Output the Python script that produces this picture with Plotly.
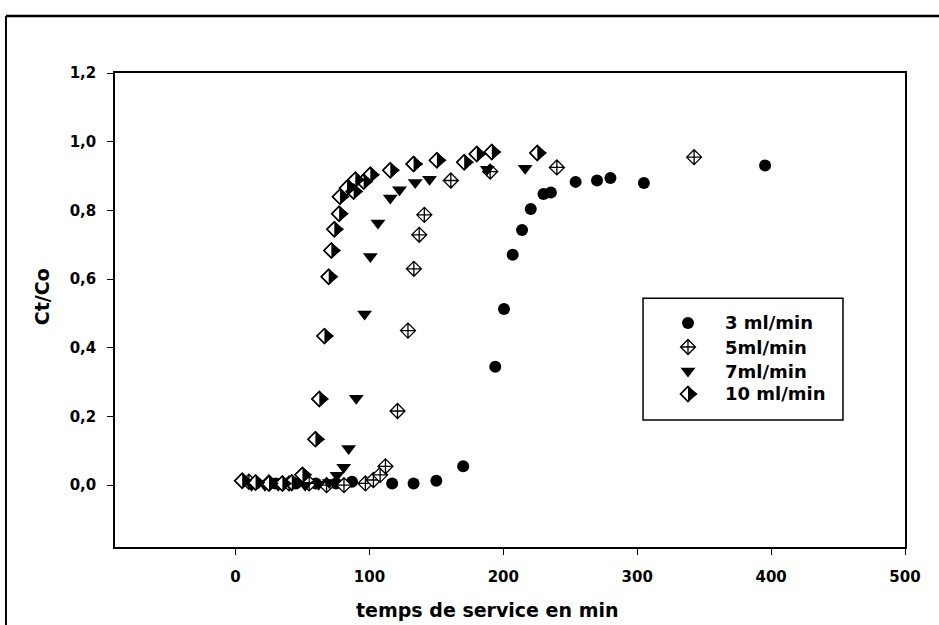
import plotly.graph_objects as go

# ---------------- data ----------------
x_3 = [15, 30, 45, 60, 75, 87, 117, 133, 150, 170, 194, 200.5, 207, 214, 220.5, 230, 235.5, 254, 270, 280, 305, 395.5]
y_3 = [0.005, 0.005, 0.005, 0.005, 0.005, 0.01, 0.005, 0.005, 0.013, 0.055, 0.345, 0.513, 0.671, 0.743, 0.804, 0.848, 0.852, 0.883, 0.887, 0.894, 0.880, 0.931]

x_5 = [10, 25, 40, 55, 68, 81, 97, 103, 108, 112, 121, 128.8, 133.2, 137.2, 141, 160.8, 190.2, 240, 342.5]
y_5 = [0.01, 0.008, 0.005, 0.005, 0.0, 0.0, 0.005, 0.015, 0.03, 0.055, 0.216, 0.45, 0.63, 0.729, 0.787, 0.887, 0.913, 0.925, 0.955]

x_7 = [12, 22, 32, 42, 52, 62, 70, 75.8, 80.8, 84.5, 90.2, 96.4, 100.7, 106.4, 115.6, 122.5, 134.2, 144.9, 188, 216.3]
y_7 = [0.0, 0.0, 0.0, 0.0, 0.0, 0.003, 0.008, 0.029, 0.052, 0.107, 0.253, 0.498, 0.666, 0.763, 0.836, 0.86, 0.881, 0.891, 0.92, 0.923]

x_10 = [5, 15, 25, 35, 42, 50, 59.7, 62.6, 66.4, 69.6, 71.6, 73.8, 77.4, 78, 83.3, 88.2, 89.5, 95.7, 100.7, 115.6, 133, 150.4, 170.8, 180.2, 191.4, 225.4]
y_10 = [0.013, 0.008, 0.005, 0.005, 0.008, 0.03, 0.134, 0.251, 0.434, 0.607, 0.683, 0.745, 0.79, 0.84, 0.865, 0.855, 0.889, 0.884, 0.904, 0.917, 0.935, 0.946, 0.940, 0.964, 0.970, 0.967]

series_names = ["3 ml/min", "5ml/min", "7ml/min", "10 ml/min"]
x_ticks = [0, 100, 200, 300, 400, 500]
y_ticks = [0.0, 0.2, 0.4, 0.6, 0.8, 1.0, 1.2]

# legend layout (fractions of the plot area)
leg_box = [0.6684, 0.268, 0.9215, 0.525]
leg_sym_x = 0.7253
leg_txt_x = 0.7696
leg_rows_y = [0.4726, 0.4219, 0.3713, 0.3228]

TICK_FONT = dict(family="DejaVu Sans", size=15, color="black", weight="bold")
D_SIZE = 11.5
T_SIZE = 13
STANDOFF = 3.25


def circle_trace(x, y, xa="x", ya="y"):
    return go.Scatter(x=x, y=y, mode="markers", xaxis=xa, yaxis=ya, showlegend=False,
                      marker=dict(symbol="circle", size=12, color="black", line=dict(width=0)))


def cross_trace(x, y, xa="x", ya="y"):
    return go.Scatter(x=x, y=y, mode="markers", xaxis=xa, yaxis=ya, showlegend=False,
                      marker=dict(symbol="diamond-cross", size=D_SIZE, color="white",
                                  line=dict(color="black", width=1.3)))


def tri_trace(x, y, xa="x", ya="y"):
    return go.Scatter(x=x, y=y, mode="markers", xaxis=xa, yaxis=ya, showlegend=False,
                      marker=dict(symbol="triangle-down", size=13, color="black", line=dict(width=0)))


def half_traces(x, y, xa="x", ya="y"):
    base = go.Scatter(x=x, y=y, mode="markers", xaxis=xa, yaxis=ya, showlegend=False,
                      marker=dict(symbol="diamond", size=D_SIZE, color="white",
                                  line=dict(color="black", width=1.4)))
    half = go.Scatter(x=x, y=y, mode="markers", xaxis=xa, yaxis=ya, showlegend=False,
                      marker=dict(symbol="triangle-down", size=T_SIZE, color="black",
                                  angle=-90, standoff=STANDOFF, line=dict(width=0)))
    edge = go.Scatter(x=x, y=y, mode="markers", xaxis=xa, yaxis=ya, showlegend=False,
                      marker=dict(symbol="diamond-open", size=D_SIZE, color="black",
                                  line=dict(color="black", width=1.4)))
    return [base, half, edge]


fig = go.Figure()
fig.add_trace(circle_trace(x_3, y_3))
fig.add_trace(cross_trace(x_5, y_5))
fig.add_trace(tri_trace(x_7, y_7))
for t in half_traces(x_10, y_10):
    fig.add_trace(t)

# legend symbols on an overlay axis (0..1 of the plot area)
fig.add_trace(circle_trace([leg_sym_x], [leg_rows_y[0]], "x2", "y2"))
fig.add_trace(cross_trace([leg_sym_x], [leg_rows_y[1]], "x2", "y2"))
fig.add_trace(tri_trace([leg_sym_x], [leg_rows_y[2]], "x2", "y2"))
for t in half_traces([leg_sym_x], [leg_rows_y[3]], "x2", "y2"):
    fig.add_trace(t)

for name, yy in zip(series_names, leg_rows_y):
    fig.add_annotation(x=leg_txt_x, y=yy, xref="paper", yref="paper", text="<b>" + name + "</b>",
                       showarrow=False, xanchor="left", yanchor="middle",
                       font=dict(family="DejaVu Sans", size=18, color="black"))

fig.add_shape(type="rect", xref="paper", yref="paper", x0=leg_box[0], y0=leg_box[1],
              x1=leg_box[2], y1=leg_box[3], line=dict(color="black", width=1.5),
              fillcolor="rgba(0,0,0,0)")

# outer frame of the original figure (top and left edges)
fig.add_shape(type="line", xref="paper", yref="paper", x0=-0.138, x1=1.06, y0=1.1203, y1=1.1203,
              line=dict(color="black", width=2.5))
fig.add_shape(type="line", xref="paper", yref="paper", x0=-0.138, x1=-0.138, y0=1.1203, y1=-0.2,
              line=dict(color="black", width=2))

# axis titles
fig.add_annotation(x=0.471, y=-0.133, xref="paper", yref="paper", text="<b>temps de service en min</b>",
                   showarrow=False, xanchor="center", yanchor="middle",
                   font=dict(family="DejaVu Sans", size=19, color="black"))
fig.add_annotation(x=-0.0924, y=0.527, xref="paper", yref="paper", text="<b>Ct/Co</b>", textangle=-90,
                   showarrow=False, xanchor="center", yanchor="middle",
                   font=dict(family="DejaVu Sans", size=19, color="black"))

fig.update_layout(
    width=939, height=625,
    margin=dict(l=115, r=34, t=73, b=78),
    paper_bgcolor="white", plot_bgcolor="white",
    separators=",.",
    showlegend=False,
    xaxis=dict(range=[-90, 500], tickvals=x_ticks, ticks="outside", ticklen=6, tickwidth=1.3,
               tickcolor="black", showline=True, mirror=True, linecolor="black", linewidth=1.5,
               showgrid=False, zeroline=False, tickfont=TICK_FONT,
               ticklabelstandoff=9),
    yaxis=dict(range=[-0.18, 1.2], tickvals=y_ticks, tickformat=".1f", ticks="outside", ticklen=6,
               tickwidth=1.3, tickcolor="black", showline=True, mirror=True, linecolor="black",
               linewidth=1.5, showgrid=False, zeroline=False, tickfont=TICK_FONT,
               ticklabelstandoff=8),
    xaxis2=dict(overlaying="x", range=[0, 1], visible=False, anchor="y2"),
    yaxis2=dict(overlaying="y", range=[0, 1], visible=False, anchor="x2"),
)

fig.write_html("out.html")
